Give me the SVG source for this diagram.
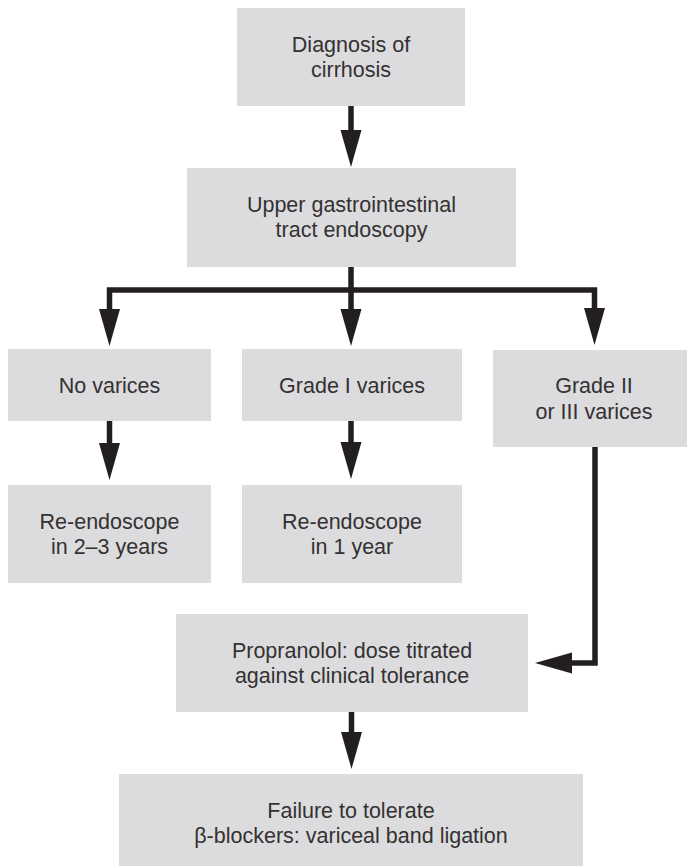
<svg xmlns="http://www.w3.org/2000/svg" width="687" height="866" viewBox="0 0 687 866">
  <style>
    .box { fill: #dcdcde; }
    .lbl { font-family: "Liberation Sans", Arial, Helvetica, sans-serif; font-size: 21.5px; fill: #343132; text-anchor: middle; }
    .wire { fill: none; stroke: #231f20; stroke-width: 5.5; stroke-linejoin: miter; stroke-linecap: butt; }
  </style>
  <defs>
    <marker id="head" markerUnits="userSpaceOnUse" markerWidth="38" markerHeight="22" viewBox="0 -11 38 22" refX="0" refY="0" orient="auto">
      <path d="M0,-10.5 L37,0 L0,10.5 Z" fill="#231f20"/>
    </marker>
  </defs>
  <rect width="687" height="866" fill="#ffffff"/>

  <g id="connectors">
    <path class="wire" d="M351,106 V130" marker-end="url(#head)"/>
    <path class="wire" d="M351,267 V309" marker-end="url(#head)"/>
    <path class="wire" d="M351,290 H109.5 V309" marker-end="url(#head)"/>
    <path class="wire" d="M351,290 H594.5 V308" marker-end="url(#head)"/>
    <path class="wire" d="M109.5,421 V443" marker-end="url(#head)"/>
    <path class="wire" d="M351,421 V442" marker-end="url(#head)"/>
    <path class="wire" d="M595,447 V663 H572" marker-end="url(#head)"/>
    <path class="wire" d="M351.5,712 V732" marker-end="url(#head)"/>
  </g>

  <g id="diagnosis">
    <rect class="box" x="237" y="8" width="228" height="98"/>
    <text class="lbl" x="351" y="52">Diagnosis of</text>
    <text class="lbl" x="351" y="77">cirrhosis</text>
  </g>

  <g id="endoscopy">
    <rect class="box" x="187" y="168" width="329" height="99"/>
    <text class="lbl" x="351.5" y="212">Upper gastrointestinal</text>
    <text class="lbl" x="351.5" y="237">tract endoscopy</text>
  </g>

  <g id="no-varices">
    <rect class="box" x="8" y="349" width="203" height="72"/>
    <text class="lbl" x="109.5" y="393">No varices</text>
  </g>

  <g id="grade-1">
    <rect class="box" x="242" y="349" width="220" height="72"/>
    <text class="lbl" x="352" y="393">Grade I varices</text>
  </g>

  <g id="grade-2-3">
    <rect class="box" x="493" y="350" width="202" height="97"/>
    <text class="lbl" x="594" y="393">Grade II</text>
    <text class="lbl" x="594" y="419">or III varices</text>
  </g>

  <g id="reendo-2-3">
    <rect class="box" x="8" y="485" width="203" height="98"/>
    <text class="lbl" x="109.5" y="529">Re-endoscope</text>
    <text class="lbl" x="109.5" y="554">in 2–3 years</text>
  </g>

  <g id="reendo-1">
    <rect class="box" x="242" y="485" width="220" height="98"/>
    <text class="lbl" x="352" y="529">Re-endoscope</text>
    <text class="lbl" x="352" y="554">in 1 year</text>
  </g>

  <g id="propranolol">
    <rect class="box" x="176" y="614" width="352" height="98"/>
    <text class="lbl" x="352" y="658">Propranolol: dose titrated</text>
    <text class="lbl" x="352" y="683">against clinical tolerance</text>
  </g>

  <g id="band-ligation">
    <rect class="box" x="119" y="774" width="464" height="92"/>
    <text class="lbl" x="351" y="818">Failure to tolerate</text>
    <text class="lbl" x="351" y="843">β-blockers: variceal band ligation</text>
  </g>
</svg>
